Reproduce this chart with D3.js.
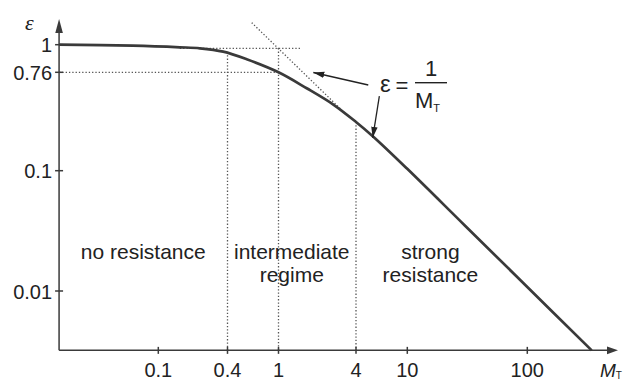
<!DOCTYPE html>
<html>
<head>
<meta charset="utf-8">
<script src="https://cdn.jsdelivr.net/npm/d3@7"></script>
<style>
  body { margin: 0; background: #fff; }
  svg { display: block; font-family: "Liberation Sans", Arial, sans-serif; }
</style>
</head>
<body>
<svg id="chart" width="625" height="381"></svg>
<script>
// ticks
var xTicks = [0.1, 0.4, 1, 4, 10, 100],
    xTickLabels = ["0.1", "0.4", "1", "4", "10", "100"],
    yTicks = [0.01, 0.1, 0.76, 1],
    yTickLabels = ["0.01", "0.1", "0.76", "1"];

// axis extent (data units)
var xMin = 0.0137, xMax = 570,
    yMin = 0.00321, yMax = 1.29;

// efficiency curve
var curveM   = [0.0137, 0.06, 0.154, 0.23, 0.367, 0.565, 1, 1.656, 2.666, 4, 5.45, 9.9, 30, 100, 344],
    curveEps = [1, 0.99, 0.9745, 0.965, 0.933, 0.865, 0.76, 0.547, 0.391, 0.273, 0.2015, 0.105, 0.0352, 0.0108, 0.00321];

// dotted asymptote eps = 1/M_T
var asymM = [0.618, 3.1],
    asymEps = [1.245, 0.349];

// dotted guides
var vGuideM = [0.4, 1, 4],
    vGuideTop = [0.9, 0.965, 0.255];
var hGuideEps = [0.965, 0.76],
    hGuideFrom = [0.154, xMin],
    hGuideTo = [1.487, 1];

// annotation arrows
var arrowFrom = [[4.98, 0.585], [6.07, 0.466]],
    arrowTo = [[1.864, 0.757], [5.39, 0.197]];

// regime labels
var regimeLines = [["no resistance"], ["intermediate", "regime"], ["strong", "resistance"]],
    regimeFrom = [xMin, 0.4, 4],
    regimeTo = [0.4, 4, 65];

var svg = d3.select("#chart");
var ink = "#3a3a3a";

// piecewise log scales (the figure is schematic, decades are not evenly spaced)
var x = d3.scaleLog().domain(xTicks).range([158.3, 227.5, 278.5, 356, 407.3, 527.3]);
var y = d3.scaleLog().domain(yTicks).range([291, 170.7, 72.3, 44.7]);

var x0 = x(xMin), x1 = x(xMax), y0 = y(yMin), y1 = y(yMax);

var dotted = svg.append("g")
    .attr("fill", "none")
    .attr("stroke", "#555")
    .attr("stroke-width", 1.3)
    .attr("stroke-dasharray", "1.3,2");

dotted.selectAll(".v")
    .data(vGuideM)
    .enter().append("line")
    .attr("x1", function(d) { return x(d); })
    .attr("x2", function(d) { return x(d); })
    .attr("y1", function(d, i) { return y(vGuideTop[i]); })
    .attr("y2", y0);

dotted.selectAll(".h")
    .data(hGuideEps)
    .enter().append("line")
    .attr("y1", function(d) { return y(d); })
    .attr("y2", function(d) { return y(d); })
    .attr("x1", function(d, i) { return x(hGuideFrom[i]); })
    .attr("x2", function(d, i) { return x(hGuideTo[i]); });

dotted.append("line")
    .attr("x1", x(asymM[0])).attr("y1", y(asymEps[0]))
    .attr("x2", x(asymM[1])).attr("y2", y(asymEps[1]));

// axes
var axes = svg.append("g").attr("stroke", ink).attr("stroke-width", 1.5);
axes.append("line").attr("x1", x0).attr("x2", x1 - 8).attr("y1", y0).attr("y2", y0);
axes.append("line").attr("x1", x0).attr("x2", x0).attr("y1", y0).attr("y2", y1 + 8);

svg.append("path")
    .attr("fill", ink)
    .attr("d", "M" + x1 + "," + y0 + "L" + (x1 - 11) + "," + (y0 - 3.8) + "L" + (x1 - 11) + "," + (y0 + 3.8) + "Z");
svg.append("path")
    .attr("fill", ink)
    .attr("d", "M" + x0 + "," + y1 + "L" + (x0 - 3.8) + "," + (y1 + 14) + "L" + (x0 + 3.8) + "," + (y1 + 14) + "Z");

axes.selectAll(".xt")
    .data(xTicks)
    .enter().append("line")
    .attr("x1", function(d) { return x(d); })
    .attr("x2", function(d) { return x(d); })
    .attr("y1", y0 - 3.5)
    .attr("y2", y0 + 3.5);

axes.selectAll(".yt")
    .data(yTicks)
    .enter().append("line")
    .attr("y1", function(d) { return y(d); })
    .attr("y2", function(d) { return y(d); })
    .attr("x1", x0 - 4)
    .attr("x2", x0 + 4);

svg.selectAll(".xl")
    .data(xTicks)
    .enter().append("text")
    .attr("x", function(d) { return x(d); })
    .attr("y", y0 + 26.5)
    .attr("text-anchor", "middle")
    .attr("font-size", 20)
    .attr("fill", "#222")
    .text(function(d, i) { return xTickLabels[i]; });

svg.selectAll(".yl")
    .data(yTicks)
    .enter().append("text")
    .attr("x", x0 - 7)
    .attr("y", function(d) { return y(d) + 7.5; })
    .attr("text-anchor", "end")
    .attr("font-size", 20)
    .attr("fill", "#222")
    .text(function(d, i) { return yTickLabels[i]; });

// axis titles
svg.append("text")
    .attr("x", 25).attr("y", 30)
    .attr("font-family", "Liberation Serif, serif")
    .attr("font-style", "italic")
    .attr("font-size", 22)
    .attr("fill", "#222")
    .text("ε");

var mt = svg.append("text")
    .attr("x", 600).attr("y", y0 + 26.5)
    .attr("font-style", "italic")
    .attr("font-size", 19)
    .attr("fill", "#222");
mt.append("tspan").text("M");
mt.append("tspan").attr("font-size", 10).attr("font-style", "normal").attr("dy", 2).text("T");

// curve
var line = d3.line()
    .x(function(d) { return x(d[0]); })
    .y(function(d) { return y(d[1]); })
    .curve(d3.curveCatmullRom.alpha(0.5));

svg.append("path")
    .datum(d3.zip(curveM, curveEps))
    .attr("fill", "none")
    .attr("stroke", ink)
    .attr("stroke-width", 2.7)
    .attr("stroke-linejoin", "round")
    .attr("d", line);

// regime labels
regimeLines.forEach(function(lines, i) {
    var cx = (x(regimeFrom[i]) + x(regimeTo[i])) / 2;
    var t = svg.append("text")
        .attr("text-anchor", "middle")
        .attr("font-size", 21)
        .attr("fill", "#222");
    lines.forEach(function(s, j) {
        t.append("tspan").attr("x", cx).attr("y", 259 + j * 23).text(s);
    });
});

// annotation arrows
svg.append("defs").append("marker")
    .attr("id", "head")
    .attr("markerUnits", "userSpaceOnUse")
    .attr("markerWidth", 12).attr("markerHeight", 8)
    .attr("refX", 11).attr("refY", 4)
    .attr("orient", "auto")
    .append("path")
    .attr("d", "M0,0.8L11,4L0,7.2Z")
    .attr("fill", "#222");

svg.selectAll(".arrow")
    .data(arrowFrom)
    .enter().append("line")
    .attr("x1", function(d) { return x(d[0]); })
    .attr("y1", function(d) { return y(d[1]); })
    .attr("x2", function(d, i) { return x(arrowTo[i][0]); })
    .attr("y2", function(d, i) { return y(arrowTo[i][1]); })
    .attr("stroke", "#222")
    .attr("stroke-width", 1.3)
    .attr("marker-end", "url(#head)");

// formula eps = 1 / M_T
var f = svg.append("g").attr("fill", "#222");
f.append("text").attr("x", 380).attr("y", 92).attr("font-size", 24).text("ε");
f.append("text").attr("x", 402).attr("y", 92.5).attr("font-size", 22).attr("text-anchor", "middle").text("=");
f.append("line").attr("x1", 415).attr("x2", 447).attr("y1", 82.7).attr("y2", 82.7)
    .attr("stroke", "#222").attr("stroke-width", 1.4);
f.append("text").attr("x", 431).attr("y", 76).attr("font-size", 22).attr("text-anchor", "middle").text("1");
var den = f.append("text").attr("x", 415).attr("y", 108.3).attr("font-size", 22);
den.append("tspan").text("M");
den.append("tspan").attr("font-size", 11).attr("dy", 3.4).text("T");
</script>
</body>
</html>
